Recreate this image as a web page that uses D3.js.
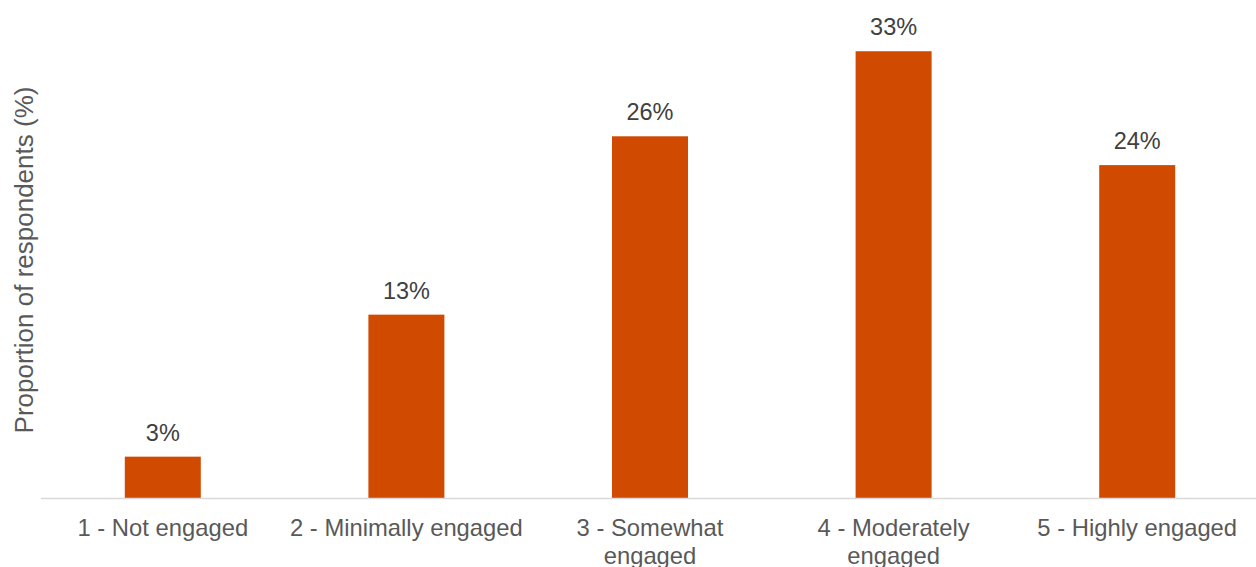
<!DOCTYPE html>
<html>
<head>
<meta charset="utf-8">
<script src="https://cdnjs.cloudflare.com/ajax/libs/d3/7.8.5/d3.min.js"></script>
<style>
  body { margin: 0; background: #fff; }
  svg { font-family: "Liberation Sans", Arial, sans-serif; }
</style>
</head>
<body>
<div id="chart"></div>
<script>
var categories = ["1 - Not engaged", "2 - Minimally engaged", "3 - Somewhat engaged", "4 - Moderately engaged", "5 - Highly engaged"];
var values = [3.05, 13.4, 26.4, 32.6, 24.3];
var labels = ["3%", "13%", "26%", "33%", "24%"];
var yTitle = "Proportion of respondents (%)";

var width = 1256, height = 567;
var svg = d3.select("#chart").append("svg")
  .attr("width", width)
  .attr("height", height);

var baseline = 498.5;

var x = d3.scaleBand()
  .domain(categories)
  .range([41, 1259])
  .paddingInner(0.688)
  .paddingOuter(0.344);

var y = d3.scaleLinear()
  .domain([0, 35])
  .range([baseline, baseline - 35 * 13.72]);

var data = categories.map(function(c, i) { return {cat: c, v: values[i], label: labels[i]}; });

// bars
svg.selectAll("rect.bar").data(data)
  .enter().append("rect")
  .attr("class", "bar")
  .attr("x", function(d) { return x(d.cat); })
  .attr("width", x.bandwidth())
  .attr("y", function(d) { return y(d.v); })
  .attr("height", function(d) { return y(0) - y(d.v); })
  .style("fill", "#D04A02");

// value labels
svg.selectAll("text.val").data(data)
  .enter().append("text")
  .attr("class", "val")
  .attr("x", function(d) { return x(d.cat) + x.bandwidth() / 2; })
  .attr("y", function(d) { return y(d.v) - 16; })
  .attr("text-anchor", "middle")
  .style("font-size", "23.5px")
  .style("fill", "#404040")
  .text(function(d) { return d.label; });

// x axis
var xAxis = svg.append("g")
  .attr("transform", "translate(0," + baseline + ")")
  .call(d3.axisBottom(x).tickSize(0).tickPadding(0));
xAxis.select(".domain").attr("d", "M41,0H1256").style("stroke", "#d9d9d9").style("stroke-width", 1.5);
xAxis.selectAll(".tick text").remove();
xAxis.selectAll(".tick").append("text")
  .attr("text-anchor", "middle")
  .style("font-size", "23.8px")
  .style("fill", "#595959")
  .each(function(d) {
    var t = d3.select(this);
    var words = d.split(" ");
    var maxW = x.step() - 10;
    var lines = [], line = [];
    var tmp = t.append("tspan");
    words.forEach(function(w) {
      line.push(w);
      tmp.text(line.join(" "));
      if (tmp.node().getComputedTextLength() > maxW && line.length > 1) {
        line.pop();
        lines.push(line.join(" "));
        line = [w];
      }
    });
    lines.push(line.join(" "));
    tmp.remove();
    lines.forEach(function(l, i) {
      t.append("tspan").attr("x", 0).attr("y", 37.5 + i * 28).text(l);
    });
  });

// y title
svg.append("text")
  .attr("transform", "translate(33,260) rotate(-90)")
  .attr("text-anchor", "middle")
  .style("font-size", "26px")
  .style("fill", "#595959")
  .text(yTitle);
</script>
</body>
</html>
